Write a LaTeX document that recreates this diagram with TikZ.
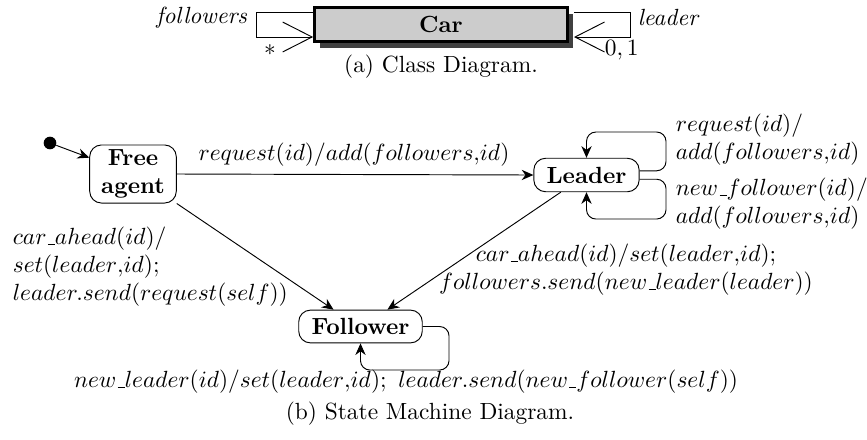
\documentclass[tikz,border=0pt]{standalone}
\usetikzlibrary{arrows.meta,shadows}
\newcommand\myus{\mbox{\kern.06em\vbox{\hrule width.3em}}}
\begin{document}
\begin{tikzpicture}[x=0.4274pt,y=-0.4274pt,
  carbox/.style={draw, line width=1.3pt, fill=black!20, minimum width=108pt, minimum height=14.8pt,
    font=\bfseries, drop shadow={shadow xshift=2.4pt, shadow yshift=-2.8pt, fill=black!75, opacity=1}},
  assoc/.style={-{Straight Barb[length=12.6pt,width=12.8pt]}},
  state/.style={draw, rounded corners=5pt, font=\bfseries, align=center, inner sep=2pt},
  trans/.style={-{Stealth[length=5pt,width=4.4pt]}},
  lbl/.style={inner sep=1pt},
  loopline/.style={trans, rounded corners=4pt}]
\useasboundingbox (0,0) rectangle (867,439);
% ---- class diagram
\node[carbox] (car) at (441,24.5) {Car};
\coordinate (f1) at (256,12);
\coordinate (f2) at (256,37);
\coordinate (cW) at (car.west);
\coordinate (cE) at ([xshift=2.2pt]car.east);
\coordinate (l1) at (630,12);
\coordinate (l2) at (630,37);
\draw[assoc] (cW |- f1) -- (f1) -- (f2) -- (cW |- f2);
\draw[assoc] (cE |- l1) -- (l1) -- (l2) -- (cE |- l2);
\node[lbl, anchor=east] (tf) at (250,18) {\textit{followers}};
\node[lbl] (tstar) at (270,50) {$*$};
\node[lbl, anchor=west] (tl) at (635,18) {\textit{leader}};
\node[lbl, anchor=west] (t01) at (602,50) {$0,1$};
\node (capa) at (441,67) {(a) Class Diagram.};
% ---- state machine
\node[circle, fill, inner sep=0pt, minimum size=5.4pt] (init) at (50,143) {};
\node[state, minimum width=37pt, minimum height=24.8pt] (fa) at (133,174) {Free\\agent};
\node[state, minimum width=45pt, minimum height=14.3pt] (ld) at (586.5,175) {Leader};
\node[state, minimum width=52.8pt, minimum height=14pt] (fol) at (360.5,326.5) {Follower};
\coordinate (lu) at (666,132);
\coordinate (ldn) at (666,219);
\coordinate (fl) at (449,370);
\draw[trans] (init) -- (fa);
\draw[trans] (fa.east) -- (ld.west);
\draw[loopline] ([yshift=1.8pt]ld.east) -| (lu) -| (ld.north);
\draw[loopline] ([yshift=-1.8pt]ld.east) -| (ldn) -| (ld.south);
\draw[loopline] (fol.east) -| (fl) -| (fol.south);
\draw[trans] (fa.south east) -- ([xshift=-11.5pt]fol.north);
\draw[trans] ([xshift=-11pt]ld.south) -- ([xshift=11.5pt]fol.north);
\node[lbl] (t1) at (354,155) {$request(id)/add(followers{,}id)$};
\node[lbl, anchor=west, align=left] (t2) at (673,140) {$request(id)/$\\$add(followers{,}id)$};
\node[lbl, anchor=west, align=left] (t3) at (673,204) {$new\myus follower(id)/$\\$add(followers{,}id)$};
\node[lbl, anchor=west, align=left] (t4) at (10,267) {$car\myus ahead(id)/$\\$set(leader{,}id);$\\$leader.send(request(self))$};
\node[lbl, align=center] (t5) at (626,270) {$car\myus ahead(id)/set(leader{,}id);$\\$followers.send(new\myus leader(leader))$};
\node[lbl] (t6) at (406,382) {$new\myus leader(id)/set(leader{,}id);\ leader.send(new\myus follower(self))$};
\node (capb) at (430,414) {(b) State Machine Diagram.};
\end{tikzpicture}
\end{document}
